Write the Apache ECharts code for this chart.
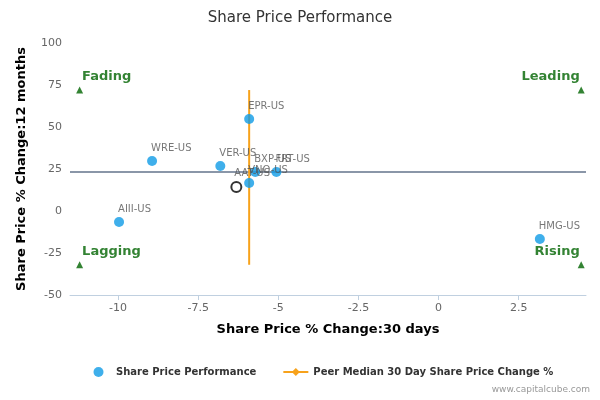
<!DOCTYPE html>
<html><head><meta charset="utf-8">
<script src="https://cdn.jsdelivr.net/npm/echarts@6/dist/echarts.min.js"></script>
<style>body{margin:0}#c{width:600px;height:400px}</style></head>
<body><div id="c"></div>
<script>
var peers = ['EPR-US', 'WRE-US', 'VER-US', 'BXP-US', 'FRT-US', 'VNO-US', 'AIII-US', 'HMG-US'];
var change30 = [-5.91, -8.94, -6.81, -5.72, -5.06, -5.91, -9.97, 3.16];
var change12m = [54.8, 29.8, 26.8, 23.2, 23.2, 16.7, -6.5, -16.7];
var subject = { name: 'AAT-US', x: -6.31, y: 14.3 };
var median30 = -5.91, median12m = 23.2;
var xTicks = [-10, -7.5, -5, -2.5, 0, 2.5];
var quadrants = [['Fading', -11.2, 72], ['Leading', 4.45, 72], ['Lagging', -11.2, -32], ['Rising', 4.45, -32]];

var chart = echarts.init(document.getElementById('c'));
var peerData = peers.map(function (n, i) { return { name: n, value: [change30[i], change12m[i]] }; });
var option = {
    title: { text: 'Share Price Performance', left: 'center', top: 6,
        textStyle: { fontFamily: 'DejaVu Sans', fontSize: 15, fontWeight: 'normal', color: '#333' } },
    grid: { left: 70, right: 14, top: 43, bottom: 105 },
    xAxis: {
        type: 'value', min: -11.5, max: 4.6,
        name: 'Share Price % Change:30 days', nameLocation: 'middle', nameGap: 28,
        nameTextStyle: { fontFamily: 'DejaVu Sans', fontWeight: 'bold', fontSize: 13, color: '#000' },
        axisLine: { onZero: false, lineStyle: { color: '#c0d0e0' } },
        axisTick: { show: true, customValues: xTicks, lineStyle: { color: '#c0d0e0' } },
        axisLabel: { customValues: xTicks, color: '#666', fontSize: 11, fontFamily: 'DejaVu Sans' },
        splitLine: { show: false }
    },
    yAxis: {
        type: 'value', min: -50, max: 100, interval: 25,
        name: 'Share Price % Change:12 months', nameLocation: 'middle', nameGap: 42,
        nameTextStyle: { fontFamily: 'DejaVu Sans', fontWeight: 'bold', fontSize: 13, color: '#000' },
        axisLine: { show: false }, axisTick: { show: false },
        axisLabel: { color: '#666', fontSize: 11, fontFamily: 'DejaVu Sans' },
        splitLine: { show: false }
    },
    legend: {
        top: 362, left: 80, width: 520, itemGap: 26, itemHeight: 10,
        textStyle: { fontFamily: 'DejaVu Sans', fontSize: 10, fontWeight: 'bold', color: '#333' },
        data: ['Share Price Performance', 'Peer Median 30 Day Share Price Change %', 'Peer Median 12 Month Share Price Change %']
    },
    graphic: [{ type: 'text', right: 10, bottom: 6, style: { text: 'www.capitalcube.com', fill: '#999', font: '9px DejaVu Sans' } }],
    series: [
        { name: 'Peer Median 12 Month Share Price Change %', type: 'line', symbol: 'rect', symbolSize: 6, showSymbol: false,
          color: '#8a96a8', lineStyle: { width: 2, color: '#8a96a8' },
          data: [[-11.5, median12m], [4.6, median12m]], z: 1 },
        { name: 'Peer Median 30 Day Share Price Change %', type: 'line', symbol: 'diamond', symbolSize: 7, showSymbol: false,
          color: '#f7a21b', lineStyle: { width: 2, color: '#f7a21b' },
          data: [[median30, -32], [median30, 72]], z: 1 },
        { name: 'Share Price Performance', type: 'scatter', symbolSize: 10, color: '#0f9be6', z: 3,
          data: peerData,
          label: { show: true, position: [4, -13], formatter: '{b}', color: '#555', fontSize: 10, fontFamily: 'DejaVu Sans' } },
        { type: 'scatter', symbolSize: 10, z: 4,
          itemStyle: { color: '#fff', borderColor: '#000', borderWidth: 2 },
          data: [{ name: subject.name, value: [subject.x, subject.y] }],
          label: { show: true, position: [4, -13], formatter: '{b}', color: '#555', fontSize: 10, fontFamily: 'DejaVu Sans' } },
        { type: 'scatter', symbol: 'triangle', symbolSize: 7, color: '#006400', z: 2,
          data: quadrants.map(function (q) { return { name: q[0], value: [q[1], q[2]] }; }),
          label: { show: true, formatter: '{b}', color: '#006400', fontWeight: 'bold', fontSize: 13, fontFamily: 'DejaVu Sans' } }
    ]
};
option.series[4].data.forEach(function (d, i) {
    d.label = i % 2 === 0 ? { align: 'left', position: [6, -16] } : { align: 'right', position: [2, -16] };
});
chart.setOption(option);
</script></body></html>
